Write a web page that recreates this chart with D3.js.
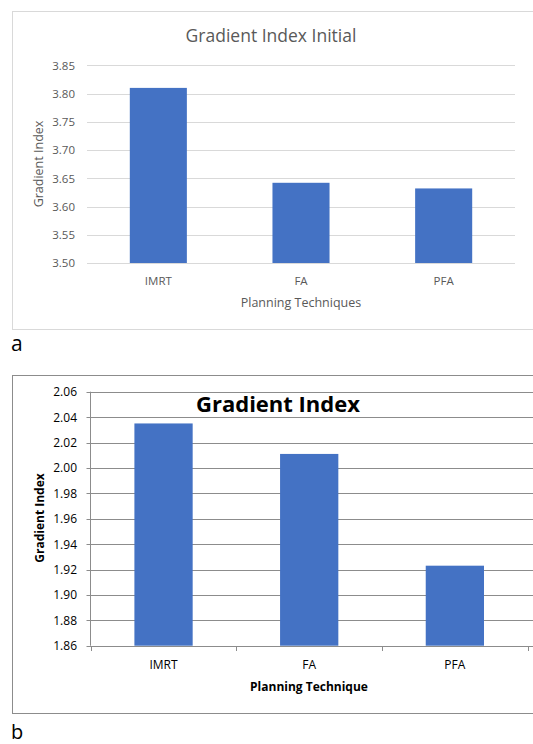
<!DOCTYPE html>
<html><head><meta charset="utf-8">
<script src="https://cdn.jsdelivr.net/npm/d3@7"></script>
<style>body{margin:0;background:#fff}svg{display:block}</style>
</head><body>
<svg id="c" width="533" height="744"></svg>
<script>
const categories = ["IMRT", "FA", "PFA"];
const valuesA = [3.810, 3.642, 3.632];
const valuesB = [2.035, 2.011, 1.923];
const ticksA = [3.50, 3.55, 3.60, 3.65, 3.70, 3.75, 3.80, 3.85];
const ticksB = [1.86, 1.88, 1.90, 1.92, 1.94, 1.96, 1.98, 2.00, 2.02, 2.04, 2.06];
const barColor = "#4472C4";

const svg = d3.select("#c");

// ---------- Chart a ----------
const gA = svg.append("g");
gA.append("rect").attr("x", 12.5).attr("y", 11.5).attr("width", 540).attr("height", 318)
  .attr("fill", "#fff").attr("stroke", "#d9d9d9").attr("stroke-width", 1);
const xA = d3.scaleBand().domain(categories).range([87, 515]).paddingInner(0.6).paddingOuter(0.3);
const yA = d3.scaleLinear().domain([3.5, 3.85]).range([263, 65.3]);
gA.selectAll(".gridA").data(ticksA).join("line")
  .attr("x1", 87).attr("x2", 515)
  .attr("y1", d => Math.round(yA(d)) + 0.5).attr("y2", d => Math.round(yA(d)) + 0.5)
  .attr("stroke", "#d9d9d9").attr("stroke-width", 1);
gA.selectAll(".tA").data(ticksA).join("text")
  .attr("x", 75).attr("y", d => yA(d) + 4.3)
  .attr("text-anchor", "end").attr("font-family", "Open Sans").attr("font-size", 11.5)
  .attr("fill", "#595959").text(d => d.toFixed(2));
gA.selectAll(".bA").data(valuesA).join("rect")
  .attr("x", (d, i) => xA(categories[i])).attr("width", xA.bandwidth())
  .attr("y", d => yA(d)).attr("height", d => yA(3.5) - yA(d))
  .attr("fill", barColor);
gA.selectAll(".xlA").data(categories).join("text")
  .attr("x", d => xA(d) + xA.bandwidth() / 2).attr("y", 285)
  .attr("text-anchor", "middle").attr("font-family", "Open Sans").attr("font-size", 11.5)
  .attr("fill", "#595959").text(d => d);
gA.append("text").attr("x", 301).attr("y", 306.5).attr("text-anchor", "middle")
  .attr("font-family", "Open Sans").attr("font-size", 12.5).attr("fill", "#595959")
  .text("Planning Techniques");
gA.append("text").attr("transform", "translate(43,164) rotate(-90)").attr("text-anchor", "middle")
  .attr("font-family", "Open Sans").attr("font-size", 12.5).attr("fill", "#595959")
  .text("Gradient Index");
gA.append("text").attr("x", 271).attr("y", 41.5).attr("text-anchor", "middle")
  .attr("font-family", "Open Sans").attr("font-size", 17.5).attr("fill", "#595959")
  .text("Gradient Index Initial");
svg.append("text").attr("x", 11).attr("y", 351).attr("font-family", "Open Sans")
  .attr("font-size", 21).attr("fill", "#000").text("a");

// ---------- Chart b ----------
const gB = svg.append("g");
gB.append("rect").attr("x", 12.5).attr("y", 375.5).attr("width", 540).attr("height", 338)
  .attr("fill", "#fff").attr("stroke", "#8c8c8c").attr("stroke-width", 1);
const xB = d3.scaleBand().domain(categories).range([90.7, 527.7]).paddingInner(0.6).paddingOuter(0.3);
const yB = d3.scaleLinear().domain([1.86, 2.06]).range([645.7, 391.7]);
gB.selectAll(".gridB").data(ticksB).join("line")
  .attr("x1", 86.5).attr("x2", 533)
  .attr("y1", d => Math.round(yB(d)) + 0.5).attr("y2", d => Math.round(yB(d)) + 0.5)
  .attr("stroke", "#8c8c8c").attr("stroke-width", 1);
gB.append("line").attr("x1", 90.5).attr("x2", 90.5).attr("y1", yB(2.06)).attr("y2", yB(1.86))
  .attr("stroke", "#8c8c8c");
const bounds = [0, 1, 2, 3].map(i => 90.7 + i * xB.step());
gB.selectAll(".xtB").data(bounds).join("line")
  .attr("x1", d => Math.round(d) + 0.5).attr("x2", d => Math.round(d) + 0.5)
  .attr("y1", Math.round(yB(1.86))).attr("y2", Math.round(yB(1.86)) + 5)
  .attr("stroke", "#8c8c8c");
gB.selectAll(".tB").data(ticksB).join("text")
  .attr("x", 77).attr("y", d => yB(d) + 4.5)
  .attr("text-anchor", "end").attr("font-family", "Open Sans").attr("font-size", 12)
  .attr("fill", "#000").text(d => d.toFixed(2));
gB.selectAll(".bB").data(valuesB).join("rect")
  .attr("x", (d, i) => xB(categories[i])).attr("width", xB.bandwidth())
  .attr("y", d => yB(d)).attr("height", d => yB(1.86) - yB(d))
  .attr("fill", barColor);
gB.selectAll(".xlB").data(categories).join("text")
  .attr("x", d => xB(d) + xB.bandwidth() / 2).attr("y", 669)
  .attr("text-anchor", "middle").attr("font-family", "Open Sans").attr("font-size", 12)
  .attr("fill", "#000").text(d => d);
gB.append("text").attr("x", 309).attr("y", 690.5).attr("text-anchor", "middle")
  .attr("font-family", "Open Sans").attr("font-size", 12).attr("font-weight", "bold").attr("fill", "#000")
  .text("Planning Technique");
gB.append("text").attr("transform", "translate(43.5,518) rotate(-90)").attr("text-anchor", "middle")
  .attr("font-family", "Open Sans").attr("font-size", 12).attr("font-weight", "bold").attr("fill", "#000")
  .text("Gradient Index");
gB.append("text").attr("x", 278).attr("y", 411.5).attr("text-anchor", "middle")
  .attr("font-family", "Open Sans").attr("font-size", 22).attr("font-weight", "bold").attr("fill", "#000")
  .text("Gradient Index");
svg.append("text").attr("x", 11).attr("y", 739).attr("font-family", "Open Sans")
  .attr("font-size", 20).attr("fill", "#000").text("b");
</script>
</body></html>
